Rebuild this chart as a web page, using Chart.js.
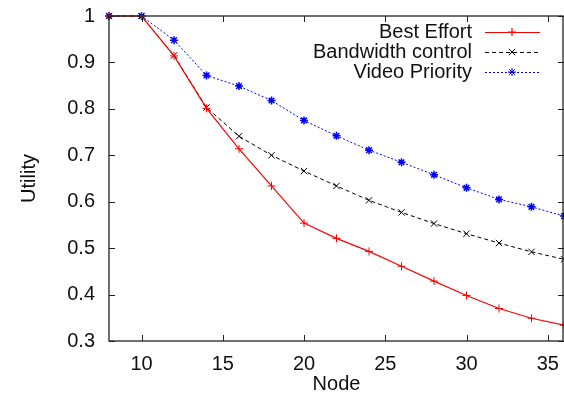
<!DOCTYPE html>
<html>
<head>
<meta charset="utf-8">
<script src="https://cdn.jsdelivr.net/npm/chart.js@4/dist/chart.umd.min.js"></script>
<style>
  html, body { margin: 0; padding: 0; background: #fff; }
  #wrap { width: 564px; height: 402px; }
</style>
</head>
<body>
<div id="wrap"><canvas id="utilityChart" width="564" height="402"></canvas></div>
<script>
const nodes = [8, 10, 12, 14, 16, 18, 20, 22, 24, 26, 28, 30, 32, 34, 36];
const bestEffort = [1, 1, 0.914, 0.801, 0.714, 0.634, 0.554, 0.521, 0.493, 0.461, 0.429, 0.398, 0.370, 0.349, 0.334];
const bandwidthControl = [1, 1, 0.915, 0.803, 0.741, 0.700, 0.666, 0.634, 0.603, 0.577, 0.553, 0.531, 0.511, 0.492, 0.476];
const videoPriority = [1, 1, 0.948, 0.872, 0.849, 0.818, 0.775, 0.742, 0.711, 0.685, 0.658, 0.630, 0.605, 0.589, 0.569];

const xTicks = [10, 15, 20, 25, 30, 35];
const yTicks = [0.3, 0.4, 0.5, 0.6, 0.7, 0.8, 0.9, 1];

const FONT = "'Liberation Sans', Arial, Helvetica, sans-serif";

const toPoints = values => values.map((v, i) => ({ x: nodes[i], y: v }));

// gnuplot-like frame with inward ticks on all four sides
const framePlugin = {
  id: "frame",
  afterDatasetsDraw(chart) {
    const { ctx, chartArea: a, scales } = chart;
    const len = 6;
    ctx.save();
    ctx.strokeStyle = "#222";
    ctx.lineWidth = 1;
    ctx.beginPath();
    xTicks.forEach(v => {
      const px = Math.round(scales.x.getPixelForValue(v)) + 0.5;
      ctx.moveTo(px, a.bottom); ctx.lineTo(px, a.bottom - len);
      ctx.moveTo(px, a.top); ctx.lineTo(px, a.top + len);
    });
    yTicks.forEach(v => {
      const py = Math.round(scales.y.getPixelForValue(v)) + 0.5;
      ctx.moveTo(a.left, py); ctx.lineTo(a.left + len, py);
      ctx.moveTo(a.right, py); ctx.lineTo(a.right - len, py);
    });
    ctx.stroke();
    ctx.lineWidth = 1.3;
    ctx.strokeRect(a.left, a.top, a.right - a.left - 1, a.bottom - a.top);
    ctx.restore();
  },
  afterDraw(chart) {
    // key in the top right, text right-aligned, sample on the right
    const ctx = chart.ctx;
    ctx.save();
    ctx.font = "20px " + FONT;
    ctx.textAlign = "right";
    ctx.textBaseline = "middle";
    chart.data.datasets.forEach((ds, i) => {
      const y = 32 + i * 20;
      ctx.fillStyle = "#111";
      ctx.fillText(ds.label, 472, y);
      ctx.strokeStyle = ds.borderColor;
      ctx.lineWidth = ds.borderWidth;
      ctx.setLineDash(ds.borderDash || []);
      ctx.beginPath();
      ctx.moveTo(485, y + 0.5);
      ctx.lineTo(540, y + 0.5);
      ctx.stroke();
      ctx.setLineDash([]);
      if (Chart.helpers && Chart.helpers.drawPoint) {
        Chart.helpers.drawPoint(ctx, {
          pointStyle: ds.pointStyle,
          radius: ds.pointRadius,
          borderWidth: ds.pointBorderWidth
        }, 512, y);
      }
    });
    ctx.restore();
  }
};

new Chart(document.getElementById("utilityChart"), {
  type: "line",
  data: {
    datasets: [
      {
        label: "Best Effort",
        data: toPoints(bestEffort),
        borderColor: "#ff0000",
        backgroundColor: "#ff0000",
        borderWidth: 1.2,
        pointStyle: "cross",
        pointRadius: 4,
        pointBorderWidth: 1,
        clip: false
      },
      {
        label: "Bandwidth control",
        data: toPoints(bandwidthControl),
        borderColor: "#000000",
        backgroundColor: "#000000",
        borderWidth: 1,
        borderDash: [4, 3],
        pointStyle: "crossRot",
        pointRadius: 4.5,
        pointBorderWidth: 1,
        clip: false
      },
      {
        label: "Video Priority",
        data: toPoints(videoPriority),
        borderColor: "#0000ff",
        backgroundColor: "#0000ff",
        borderWidth: 1,
        borderDash: [2, 2],
        pointStyle: "star",
        pointRadius: 4,
        pointBorderWidth: 1.5,
        clip: false
      }
    ]
  },
  options: {
    responsive: false,
    animation: false,
    layout: { autoPadding: false, padding: { top: 16, right: 0, left: 0, bottom: 0 } },
    plugins: {
      legend: { display: false },
      tooltip: { enabled: false }
    },
    scales: {
      x: {
        type: "linear",
        min: 8,
        max: 36,
        afterFit: scale => {
          scale.height = 61;
          scale.paddingLeft = 0;
          scale.paddingRight = 0;
        },
        afterBuildTicks: scale => { scale.ticks = xTicks.map(v => ({ value: v })); },
        grid: { display: false, drawTicks: false },
        border: { display: false },
        ticks: {
          padding: 11,
          color: "#111",
          font: { family: FONT, size: 20 },
          maxRotation: 0
        },
        title: {
          display: true,
          text: "Node",
          color: "#111",
          font: { family: FONT, size: 20 },
          padding: { top: 0, bottom: 6 }
        }
      },
      y: {
        type: "linear",
        min: 0.3,
        max: 1,
        afterFit: scale => {
          scale.width = 109;
          scale.paddingTop = 0;
          scale.paddingBottom = 0;
        },
        afterBuildTicks: scale => { scale.ticks = yTicks.map(v => ({ value: v })); },
        grid: { display: false, drawTicks: false },
        border: { display: false },
        ticks: {
          padding: 14,
          color: "#111",
          font: { family: FONT, size: 20 },
          callback: v => String(Number(v.toFixed(1)))
        },
        title: {
          display: true,
          text: "Utility",
          color: "#111",
          font: { family: FONT, size: 20 },
          padding: { top: 17, bottom: 0 }
        }
      }
    }
  },
  plugins: [framePlugin]
});
</script>
</body>
</html>
